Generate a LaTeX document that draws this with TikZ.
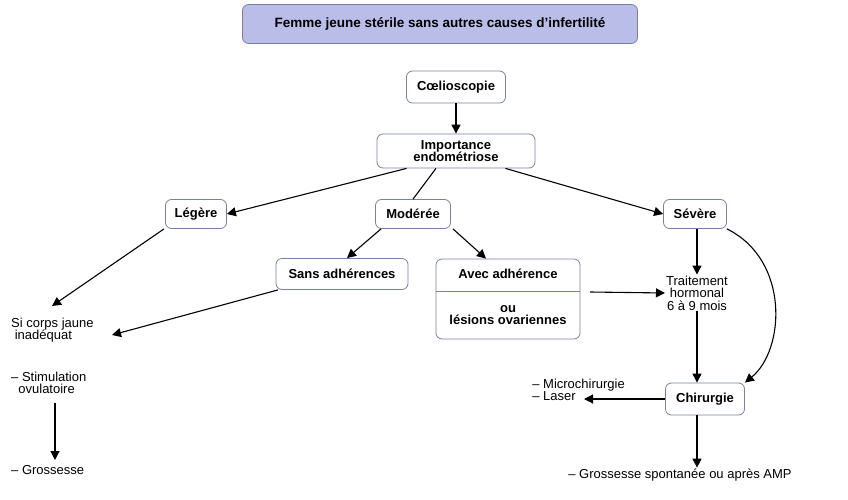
\documentclass[tikz,border=0pt]{standalone}
\usepackage{fontspec}
\setmainfont{Liberation Sans}
\usetikzlibrary{arrows.meta}
\definecolor{bord}{HTML}{7A7FA8}
\definecolor{lav}{HTML}{BABDE8}
\newcommand\fsz{\fontsize{13}{14.5}\selectfont}
\begin{document}
\begin{tikzpicture}[x=1pt,y=-1pt,font=\fsz,
 box/.style={draw=bord,rounded corners=6pt,fill=white,align=center,inner sep=3pt,line width=0.8pt},
 txt/.style={align=center,inner sep=1pt},
 arr/.style={-{Triangle[length=9pt,width=9pt]},line width=1.1pt}]
\useasboundingbox (0,0) rectangle (848,500);
\node[box,fill=lav,minimum width=395pt,minimum height=39pt,font=\fontsize{13.5}{15}\selectfont\bfseries] (t) at (440,24) {Femme jeune stérile sans autres causes d’infertilité};
\node[box,font=\fsz\bfseries,minimum width=99pt,minimum height=32pt] (c) at (456,87) {Cœlioscopie};
\node[box,font=\fsz\bfseries,minimum width=158pt,minimum height=34pt,inner sep=1pt] (i) at (456,151) {Importance\\[-2pt]endométriose};
\node[box,font=\fsz\bfseries,minimum width=61pt,minimum height=29pt] (l) at (196,214) {Légère};
\node[box,font=\fsz\bfseries,minimum width=75pt,minimum height=29pt] (m) at (413,214) {Modérée};
\node[box,font=\fsz\bfseries,minimum width=63pt,minimum height=29pt] (s) at (695,214) {Sévère};
\node[box,font=\fsz\bfseries,minimum width=132pt,minimum height=31pt] (sa) at (342,274) {Sans adhérences};
\node[box,minimum width=144pt,minimum height=80pt] (a) at (508,299) {};
\draw[bord,line width=0.8pt] (436,291) -- (580,291);
\node[txt,font=\fsz\bfseries] (a1) at (508,274) {Avec adhérence};
\node[txt,font=\fsz\bfseries] (a2) at (508,315) {ou\\[-2pt]lésions ovariennes};
\node[txt] (tr) at (697,293) {Traitement\\[-2pt]hormonal\\[-2pt]6 à 9 mois};
\node[txt,align=left,anchor=west] (sc) at (10,330) {Si corps jaune\\[-2pt]\ inadéquat};
\node[txt,align=left,anchor=west] (st) at (10,383) {– Stimulation\\[-2pt]\ \ ovulatoire};
\node[txt,anchor=west] (g) at (10,470) {– Grossesse};
\node[box,font=\fsz\bfseries,minimum width=79pt,minimum height=32pt] (ch) at (705,399) {Chirurgie};
\node[txt,align=left,anchor=east] (mi) at (634,390) {– Microchirurgie\\[-2pt]– Laser\hphantom{ochirurgie}};
\node[txt] (gs) at (680,475) {– Grossesse spontanée ou après AMP};
\coordinate (mil) at (584,399);
\draw[arr] (c) -- (i);
\draw[arr] (i.south west)+(30,0) coordinate (x1) (x1) -- (l.east);
\draw[line width=1.1pt] ([xshift=-20pt]i.south) -- (m.north);
\draw[arr] ([xshift=-30pt]i.south east) -- (s.west);
\draw[arr] ([xshift=-32pt]m.south) -- ([xshift=5pt]sa.north);
\draw[arr] ([xshift=40pt]m.south) -- ([xshift=-22pt]a.north);
\draw[arr] ([xshift=-32pt]l.south) -- (52,306);
\draw[arr] ([xshift=-64pt]sa.south) -- (112,335);
\draw[arr] (55,403) -- (55,460);
\draw[arr] (590,292) -- (tr.west);
\draw[arr] (697,229) -- (tr.north);
\draw[arr] (tr.south) -- ([xshift=-8pt]ch.north);
\draw[arr] ([xshift=-8pt]ch.south) -- (gs.north -| 697,0);
\draw[arr] (ch.west) -- (mil);
\draw[arr] (s.south east) .. controls (790,260) and (785,350) .. (ch.north east);
\end{tikzpicture}
\end{document}
